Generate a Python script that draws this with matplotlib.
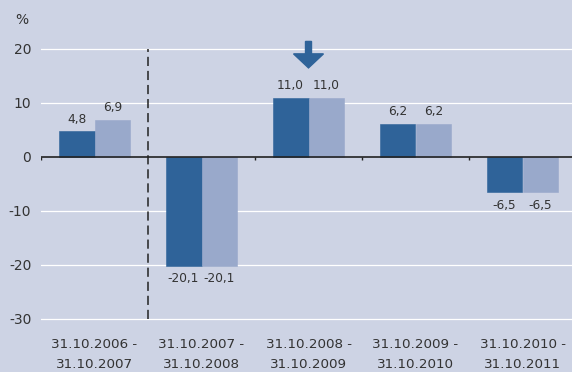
import matplotlib
matplotlib.use("Agg")
import matplotlib.pyplot as plt
from matplotlib.patches import FancyArrow
import numpy as np

categories = ["31.10.2006 -\n31.10.2007", "31.10.2007 -\n31.10.2008",
              "31.10.2008 -\n31.10.2009", "31.10.2009 -\n31.10.2010",
              "31.10.2010 -\n31.10.2011"]
series_dark = [4.8, -20.1, 11.0, 6.2, -6.5]
series_light = [6.9, -20.1, 11.0, 6.2, -6.5]
yticks = [-30, -20, -10, 0, 10, 20]

BG = "#CDD3E4"
DARK = "#2F6399"
LIGHT = "#99A9CB"
TXT = "#333333"

fig = plt.figure(figsize=(5.72, 3.72), dpi=100, facecolor=BG)
ax = fig.add_axes([41/572, (372-324.4)/372, 535/572, (324.4-22)/372], facecolor=BG)

x = np.arange(len(categories))
w = 0.336
ax.bar(x - w/2, series_dark, width=w, color=DARK, edgecolor=DARK, linewidth=0.4, zorder=3)
ax.bar(x + w/2, series_light, width=w, color=LIGHT, edgecolor=LIGHT, linewidth=0.4, zorder=3)

def fmt(v):
    return f"{v:.1f}".replace(".", ",")

for xs, vals in ((x - w/2, series_dark), (x + w/2, series_light)):
    for xi, v in zip(xs, vals):
        ax.annotate(fmt(v), (xi, v), xytext=(0, 4 if v >= 0 else -5), textcoords="offset points",
                    ha="center", va="bottom" if v >= 0 else "top", fontsize=8.7, color=TXT, zorder=5)

ax.set_xlim(-0.5, 4.5)
ax.set_ylim(-31, 25)
ax.set_yticks(yticks)
ax.set_yticklabels([str(t) for t in yticks])
for t in yticks:
    if t != 0:
        ax.axhline(t, color="white", lw=0.9, zorder=1)
ax.axhline(0, color="#222222", lw=1.2, zorder=4)
ax.vlines([-0.5, 1.5, 2.5, 3.5], -0.55, 0, color="#222222", lw=1.0, zorder=4)
ax.vlines(0.5, -30, 20, color="#222222", lw=1.1, linestyles=(0, (6, 3.2)), zorder=4)

ax.set_xticks(x)
ax.set_xticklabels(categories, linespacing=1.65)
ax.tick_params(axis="x", length=0, pad=10, labelsize=9.7, labelcolor=TXT)
ax.tick_params(axis="y", length=0, pad=7, labelsize=10, labelcolor=TXT)
for s in ax.spines.values():
    s.set_visible(False)

ax.add_patch(FancyArrow(2, 21.4, 0, -4.9, width=0.056, head_width=0.28, head_length=2.6,
                        length_includes_head=True, color=DARK, zorder=5, clip_on=False))

fig.text(15/572, 1 - 20/372, "%", fontsize=10, color=TXT, va="center", ha="left")

fig.savefig("out.png", dpi=100, facecolor=BG)
